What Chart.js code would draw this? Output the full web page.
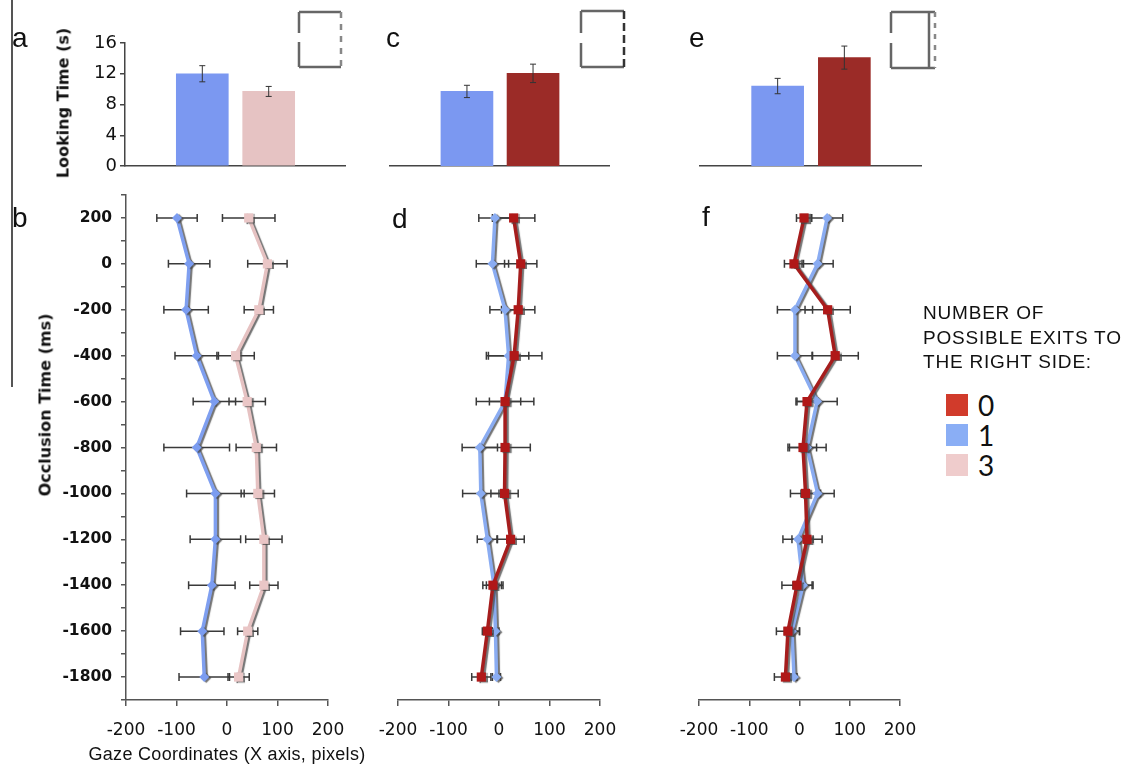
<!DOCTYPE html>
<html>
<head>
<meta charset="utf-8">
<script src="https://cdn.jsdelivr.net/npm/chart.js@4.4.1/dist/chart.umd.min.js"></script>
<style>
  html, body { margin: 0; padding: 0; background: #fff; }
  #wrap { position: relative; width: 1126px; height: 765px; overflow: hidden; color: #111;
          font-family: "Liberation Sans", Arial, sans-serif; }
  canvas { position: absolute; }
  .lbl { position: absolute; font-size: 28px; line-height: 28px; }
  .sw { position: absolute; width: 22px; height: 22px; left: 946px; }
  .num { position: absolute; left: 978px; font-family: Lato, "Liberation Sans", sans-serif; font-size: 28px; line-height: 28px; }
  .ytitle { position: absolute; transform: translate(-50%, -50%) rotate(-90deg);
            font: bold 16px "DejaVu Sans", sans-serif; white-space: nowrap; }
</style>
</head>
<body>
<div id="wrap">
  <canvas id="cA" width="360" height="185" style="left:0;top:0"></canvas>
  <canvas id="cC" width="260" height="185" style="left:370px;top:0"></canvas>
  <canvas id="cE" width="260" height="185" style="left:680px;top:0"></canvas>
  <canvas id="cB" width="350" height="580" style="left:0;top:185px"></canvas>
  <canvas id="cD" width="260" height="580" style="left:370px;top:185px"></canvas>
  <canvas id="cF" width="261" height="580" style="left:671px;top:185px"></canvas>

  <div style="position:absolute;left:11px;top:0;width:1.5px;height:387px;background:#555"></div>

  <div class="lbl" style="left:12px;top:24px">a</div>
  <div class="lbl" style="left:386px;top:24px">c</div>
  <div class="lbl" style="left:689px;top:24px">e</div>
  <div class="lbl" style="left:12px;top:204px">b</div>
  <div class="lbl" style="left:392px;top:205px">d</div>
  <div class="lbl" style="left:702px;top:203px">f</div>

  <div class="ytitle" style="left:63px;top:103px">Looking Time (s)</div>
  <div class="ytitle" style="left:45px;top:405px">Occlusion Time (ms)</div>
  <div style="position:absolute;left:227px;top:754px;transform:translate(-50%,-50%);font-size:18px;letter-spacing:0.3px;white-space:nowrap">Gaze Coordinates (X axis, pixels)</div>

  <svg style="position:absolute;left:0;top:0" width="1126" height="80">
    <g fill="none" stroke-width="2.5">
      <path d="M299,12 H341 M299,67 H341 M299,12 V33 M299,42 V67" stroke="#666"/>
      <path d="M341,12 V67" stroke="#888" stroke-dasharray="6 6"/>
      <path d="M581,11 H624 M581,67 H624 M581,11 V33 M581,43 V67" stroke="#666"/>
      <path d="M624,11 V67" stroke="#333" stroke-dasharray="8 4"/>
      <path d="M891,12 H935 M891,68 H935 M891,12 V33 M891,43 V68 M929,12 V68" stroke="#666"/>
      <path d="M935,12 V68" stroke="#888" stroke-dasharray="5 6"/>
    </g>
  </svg>

  <div style="position:absolute;left:923px;top:301px;font-size:19px;line-height:24.5px;letter-spacing:0.8px;white-space:nowrap">NUMBER OF<br>POSSIBLE EXITS TO<br>THE RIGHT SIDE:</div>
  <div class="sw" style="top:394px;background:#d13b2b"></div>
  <div class="sw" style="top:424px;background:#8aaef5"></div>
  <div class="sw" style="top:454px;background:#efcccc"></div>
  <div class="num" style="top:391px">0</div>
  <div class="num" style="top:421px">1</div>
  <div class="num" style="top:451px">3</div>
</div>

<script>
// looking time bars (s)
const BAR_A = [12.0, 9.7];
const BAR_A_ERR = [1.05, 0.65];
const BAR_C = [9.7, 12.05];
const BAR_C_ERR = [0.8, 1.2];
const BAR_E = [10.4, 14.1];
const BAR_E_ERR = [1.0, 1.5];
const LT_TICKS = [0, 4, 8, 12, 16];

// gaze coordinates (px) per occlusion time (ms)
const TIMES = [200, 0, -200, -400, -600, -800, -1000, -1200, -1400, -1600, -1800];
const B_ONE = [-99, -75, -81, -60, -25, -60, -23, -23, -30, -49, -45];
const B_ONE_ERR = [40, 41, 44, 43, 42, 65, 57, 50, 46, 43, 50];
const B_THREE = [43, 80, 63, 17, 40, 58, 61, 73, 73, 41, 23];
const B_THREE_ERR = [52, 39, 29, 37, 36, 40, 33, 36, 28, 20, 21];
const D_ZERO = [29, 43, 38, 30, 12, 12, 11, 23, -12, -23, -35];
const D_ZERO_ERR = [42, 32, 33, 55, 31, 50, 27, 27, 20, 10, 19];
const D_ONE = [-8, -13, 12, 19, 12, -38, -36, -23, -10, -7, -5];
const D_ONE_ERR = [32, 32, 30, 40, 57, 35, 36, 20, 15, 7, 8];
const F_ZERO = [9, -11, 56, 71, 15, 7, 12, 15, -5, -23, -28];
const F_ZERO_ERR = [15, 19, 45, 46, 22, 27, 30, 30, 30, 23, 22];
const F_ONE = [55, 36, -9, -9, 35, 15, 36, -3, 7, -15, -11];
const F_ONE_ERR = [31, 31, 35, 35, 40, 38, 33, 30, 20, 15, 6];

const X_TICKS = [-200, -100, 0, 100, 200];
const Y_TICKS = [-1900, -1800, -1700, -1600, -1500, -1400, -1300, -1200, -1100, -1000,
  -900, -800, -700, -600, -500, -400, -300, -200, -100, 0, 100, 200, 300];

Chart.defaults.font.family = '"DejaVu Sans", sans-serif';
Chart.defaults.color = '#111';

const AXIS = '#555';

const hErrorBars = {
  id: 'hErrorBars',
  beforeDatasetsDraw(chart) {
    const { ctx, scales: { x, y } } = chart;
    ctx.save();
    ctx.strokeStyle = '#3a3a3a';
    ctx.lineWidth = 1.5;
    chart.data.datasets.forEach(ds => {
      ds.data.forEach((p, i) => {
        const e = ds.errX[i];
        const x0 = x.getPixelForValue(p.x - e);
        const x1 = x.getPixelForValue(p.x + e);
        const py = y.getPixelForValue(p.y);
        ctx.beginPath();
        ctx.moveTo(x0, py); ctx.lineTo(x1, py);
        ctx.moveTo(x0, py - 4); ctx.lineTo(x0, py + 4);
        ctx.moveTo(x1, py - 4); ctx.lineTo(x1, py + 4);
        ctx.stroke();
      });
    });
    ctx.restore();
  }
};

const lineShadow = {
  id: 'lineShadow',
  beforeDatasetsDraw(chart) {
    const c = chart.ctx;
    c.save();
    c.shadowColor = 'rgba(70,70,70,0.75)';
    c.shadowOffsetX = 2;
    c.shadowOffsetY = 1;
    c.shadowBlur = 1;
  },
  afterDatasetsDraw(chart) {
    chart.ctx.restore();
  }
};

const vErrorBars = {
  id: 'vErrorBars',
  afterDatasetsDraw(chart) {
    const { ctx, scales: { x, y } } = chart;
    ctx.save();
    ctx.strokeStyle = '#333';
    ctx.lineWidth = 1;
    chart.data.datasets.forEach(ds => {
      ds.data.forEach((p, i) => {
        const e = ds.errY[i];
        const px = x.getPixelForValue(p.x);
        const y0 = y.getPixelForValue(p.y + e);
        const y1 = y.getPixelForValue(p.y - e);
        ctx.beginPath();
        ctx.moveTo(px, y0); ctx.lineTo(px, y1);
        ctx.moveTo(px - 3, y0); ctx.lineTo(px + 3, y0);
        ctx.moveTo(px - 3, y1); ctx.lineTo(px + 3, y1);
        ctx.stroke();
      });
    });
    ctx.restore();
  }
};

function series(xs, errs, fill, line, style, r, bw) {
  return {
    data: xs.map((v, i) => ({ x: v, y: TIMES[i] })),
    errX: errs,
    showLine: true,
    borderColor: line,
    borderWidth: bw,
    backgroundColor: fill,
    pointBackgroundColor: fill,
    pointBorderColor: fill,
    pointBorderWidth: 0,
    pointStyle: style,
    pointRadius: r,
    pointHoverRadius: r,
    tension: 0,
  };
}

function gazeChart(id, sets, withY, pad) {
  return new Chart(document.getElementById(id), {
    type: 'scatter',
    data: { datasets: sets },
    plugins: [hErrorBars, lineShadow],
    options: {
      responsive: false,
      animation: false,
      layout: { padding: pad },
      plugins: { legend: { display: false }, tooltip: { enabled: false } },
      scales: {
        x: {
          min: -200, max: 200,
          afterBuildTicks(s) { s.ticks = X_TICKS.map(v => ({ value: v })); },
          afterFit(s) { s.height = 65; s.paddingLeft = 0; s.paddingRight = 0; },
          grid: { drawOnChartArea: false, tickLength: 6, color: AXIS, lineWidth: 1.5 },
          border: { color: AXIS, width: 1.5 },
          ticks: { font: { size: 17 }, padding: 14, color: '#111', maxRotation: 0 },
        },
        y: {
          display: withY,
          min: -1900, max: 300,
          afterBuildTicks(s) { s.ticks = Y_TICKS.map(v => ({ value: v })); },
          afterFit(s) {
            if (withY) s.width = 126;
            s.paddingTop = 0;
            s.paddingBottom = 0;
          },
          grid: { drawOnChartArea: false, tickLength: 5, color: AXIS, lineWidth: 1.5 },
          border: { color: AXIS, width: 1.5 },
          ticks: {
            autoSkip: false,
            font: { size: 15.5, weight: 'bold' },
            padding: 9,
            color: '#111',
            callback: v => (v % 200 === 0 ? String(v) : ''),
          },
        },
      },
    },
  });
}

function barChart(id, vals, errs, colors, withY, pad) {
  return new Chart(document.getElementById(id), {
    type: 'bar',
    data: {
      datasets: [{
        data: vals.map((v, i) => ({ x: i + 1, y: v })),
        errY: errs,
        backgroundColor: colors,
        barThickness: 52,
      }],
    },
    plugins: [vErrorBars],
    options: {
      responsive: false,
      animation: false,
      layout: { padding: pad },
      plugins: { legend: { display: false }, tooltip: { enabled: false } },
      scales: {
        x: {
          type: 'linear',
          min: 0.25, max: 2.735,
          afterFit(s) { s.height = 0; s.paddingLeft = 0; s.paddingRight = 0; },
          ticks: { display: false },
          grid: { display: false },
          border: { display: true, color: '#444', width: 1.5 },
        },
        y: {
          display: withY,
          min: 0, max: 16,
          afterBuildTicks(s) { s.ticks = LT_TICKS.map(v => ({ value: v })); },
          afterFit(s) {
            if (withY) s.width = 125;
            s.paddingTop = 0;
            s.paddingBottom = 0;
          },
          grid: { drawOnChartArea: false, tickLength: 5, color: '#444', lineWidth: 1.5 },
          border: { color: '#444', width: 1.5 },
          ticks: { font: { size: 18 }, padding: 3, color: '#111' },
        },
      },
    },
  });
}

const BLUE_BAR = '#7b98f1', PINK_BAR = '#e6c3c3', RED_BAR = '#9b2b27';

barChart('cA', BAR_A, BAR_A_ERR, [BLUE_BAR, PINK_BAR], true, { left: 0, top: 43, right: 15, bottom: 19 });
barChart('cC', BAR_C, BAR_C_ERR, [BLUE_BAR, RED_BAR], false, { left: 20, top: 43, right: 21, bottom: 19 });
barChart('cE', BAR_E, BAR_E_ERR, [BLUE_BAR, RED_BAR], false, { left: 20, top: 43, right: 19, bottom: 19 });

gazeChart('cB', [
  series(B_ONE, B_ONE_ERR, '#7b9cf0', '#7f9ff0', 'rectRot', 5, 3.5),
  series(B_THREE, B_THREE_ERR, '#eac6c6', '#e6c2c2', 'rect', 6.5, 3.5),
], true, { left: 0, top: 10, right: 22, bottom: 0 });

gazeChart('cD', [
  series(D_ZERO, D_ZERO_ERR, '#b01818', '#a51d1d', 'rect', 6.5, 3.5),
  series(D_ONE, D_ONE_ERR, '#8aacf2', '#8aacf2', 'rectRot', 5, 3.5),
], false, { left: 28, top: 10, right: 30, bottom: 0 });

gazeChart('cF', [
  series(F_ZERO, F_ZERO_ERR, '#b01818', '#a51d1d', 'rect', 6.5, 3.5),
  series(F_ONE, F_ONE_ERR, '#8aacf2', '#8aacf2', 'rectRot', 5, 3.5),
], false, { left: 28, top: 10, right: 32, bottom: 0 });
</script>
</body>
</html>
